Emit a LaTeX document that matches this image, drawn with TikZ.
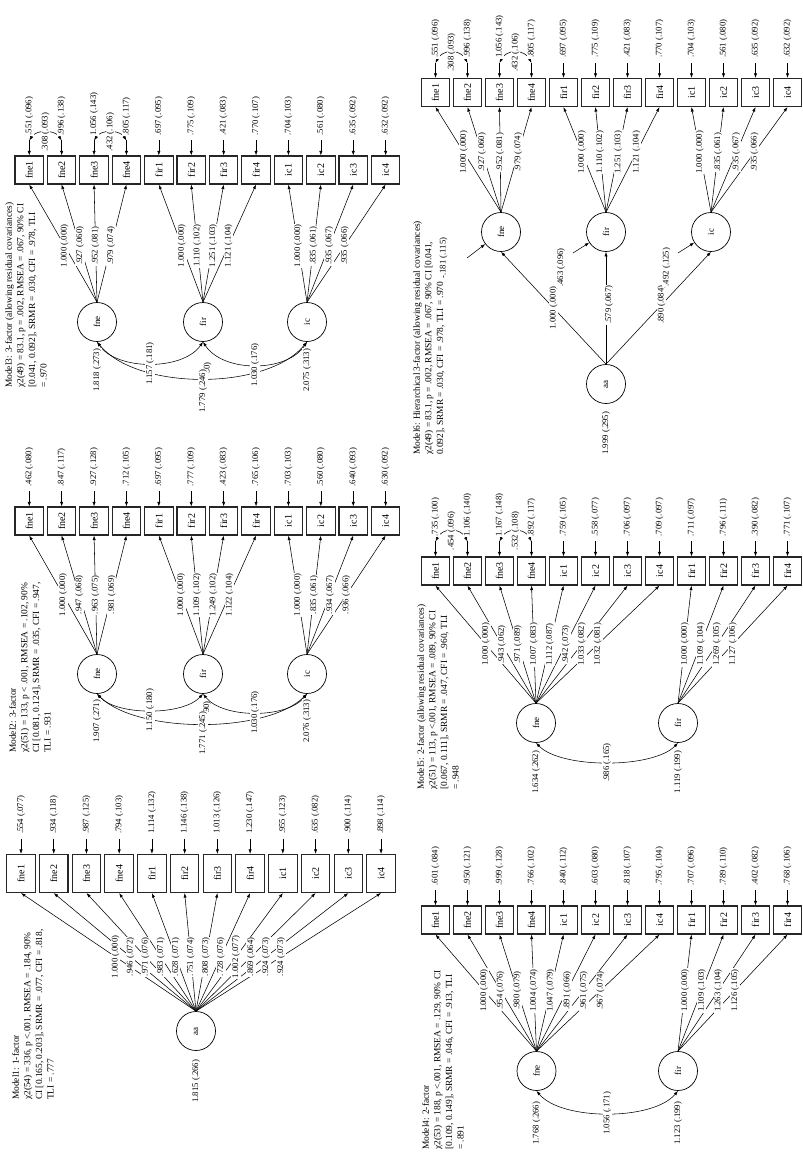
\documentclass[tikz,border=0pt]{standalone}
\usepackage{fontspec}
\setmainfont{Liberation Serif}
\usepackage{graphicx}
\usetikzlibrary{arrows.meta,calc}
\newcommand\fsnum{\fontsize{8.7}{10}\selectfont}
\newcommand\fshead{\fontsize{9.4}{11.6}\selectfont}
\newcommand\fsbox{\fontsize{10}{12}\selectfont}
\newcommand\fsfac{\fontsize{9}{11}\selectfont}
\tikzset{
  ind/.style={draw=black!85, line width=1.1pt, minimum width=28.5pt, minimum height=28pt, inner sep=0pt, font=\fsbox},
  fac/.style={draw, circle, line width=0.7pt, minimum size=39pt, inner sep=0pt, font=\fsfac},
  lab/.style={rotate=90, fill=white, inner sep=0.8pt, font=\fsnum},
  arr/.style={line width=0.55pt, -{Latex[length=4.5pt,width=3.2pt]}},
  darr/.style={line width=0.55pt, {Latex[length=4.5pt,width=3.2pt]}-{Latex[length=4.5pt,width=3.2pt]}},
  head/.style={rotate=90, anchor=north west, align=left, inner sep=0pt, font=\fshead},
}
\newcommand\boxrow[6][]{\foreach \n [count=\i from 0] in {#6}{\node[ind,#1] (#2\n) at ({#3+#4*\i},#5) {\rotatebox{90}{\n}};}}
% prefix, list, code drawn between the residual arrows and their labels
\newcommand\resid[3]{\foreach \n/\v in {#2}{%
  \coordinate (#1t\n) at ($(#1\n.north)+(0,-15)$);
  \draw[arr] (#1t\n) -- (#1\n.north);}
  #3
  \foreach \n/\v in {#2}{\node[lab,anchor=west] at ($(#1t\n)+(0,-4)$) {\v};}}
\newcommand\rcov[5]{\draw[darr] (#1t#2) .. controls +(7,-#5) and +(-7,-#5) .. (#1t#3);
  \node[lab] at ($(#1t#2)!.5!(#1t#3)+(0,{-0.75*#5})$) {#4};}
\newcommand\loads[4]{\foreach \n/\v in {#4}{\draw[arr] (#1.north) -- (#2\n.south);}
  \foreach \n/\v in {#4}{\path (#1.north) -- node[lab,pos=#3]{\v} (#2\n.south);}}
\newcommand\fcov[5]{\draw[darr] (#1.south) .. controls +(#3,#4) and +(-#3,#4) .. (#2.south);
  \node[lab] at ($(#1.south)!.5!(#2.south)+(0,{0.75*#4})$) {#5};}
\newcommand\fvar[3]{\node[lab,anchor=east] at ($(#1.south)+(0,#2)$) {#3};}
\begin{document}
\begin{tikzpicture}[x=1pt,y=-1pt]
\useasboundingbox (0,0) rectangle (803,1154);
% ================= Model3
\boxrow{m3}{29.25}{32.4}{170}{fne1,fne2,fne3,fne4,fir1,fir2,fir3,fir4,ic1,ic2,ic3,ic4}
\node[fac] (m3fne) at (97,322) {\rotatebox{90}{fne}};
\node[fac] (m3fir) at (203,322) {\rotatebox{90}{fir}};
\node[fac] (m3ic) at (307,322) {\rotatebox{90}{ic}};
\loads{m3fne}{m3}{0.48}{fne1/{1.000 (.000)},fne2/{.927 (.060)},fne3/{.952 (.081)},fne4/{.979 (.074)}}
\loads{m3fir}{m3}{0.48}{fir1/{1.000 (.000)},fir2/{1.110 (.102)},fir3/{1.251 (.103)},fir4/{1.121 (.104)}}
\loads{m3ic}{m3}{0.48}{ic1/{1.000 (.000)},ic2/{.835 (.061)},ic3/{.935 (.067)},ic4/{.935 (.066)}}
\resid{m3}{fne1/{.551 (.096)},fne2/{.996 (.138)},fne3/{1.056 (.143)},fne4/{.805 (.117)},fir1/{.697 (.095)},fir2/{.775 (.109)},fir3/{.421 (.083)},fir4/{.770 (.107)},ic1/{.704 (.103)},ic2/{.561 (.080)},ic3/{.635 (.092)},ic4/{.632 (.092)}}{%
  \rcov{m3}{fne1}{fne2}{.308 (.093)}{11}\rcov{m3}{fne3}{fne4}{.432 (.106)}{11}}
\draw[darr] (m3fne.south) .. controls +(40,49) and +(-40,49) .. (m3ic.south);
\fcov{m3fne}{m3fir}{20}{29}{1.157 (.181)}
\fcov{m3fir}{m3ic}{20}{31}{1.030 (.176)}
\fvar{m3fne}{6}{1.818 (.273)}
\node[lab,fill=none] at (207.5,368) {90)};
\fvar{m3fir}{27}{1.779 (.246)}
\fvar{m3ic}{6}{2.075 (.313)}
\node[head] (h3) at (5,388) {Model3: 3-factor (allowing residual covariances)\\χ2(49) = 83.1, p = .002, RMSEA = .067, 90\% CI\\{}[0.041, 0.092], SRMR = .030, CFI = .978, TLI\\= .970};
% ================= Model2
\boxrow{m2}{29.25}{32.4}{521}{fne1,fne2,fne3,fne4,fir1,fir2,fir3,fir4,ic1,ic2,ic3,ic4}
\node[fac] (m2fne) at (97,674) {\rotatebox{90}{fne}};
\node[fac] (m2fir) at (203,674) {\rotatebox{90}{fir}};
\node[fac] (m2ic) at (307,674) {\rotatebox{90}{ic}};
\loads{m2fne}{m2}{0.5}{fne1/{1.000 (.000)},fne2/{.947 (.068)},fne3/{.963 (.075)},fne4/{.981 (.069)}}
\loads{m2fir}{m2}{0.5}{fir1/{1.000 (.000)},fir2/{1.109 (.102)},fir3/{1.249 (.102)},fir4/{1.122 (.104)}}
\loads{m2ic}{m2}{0.5}{ic1/{1.000 (.000)},ic2/{.835 (.061)},ic3/{.934 (.067)},ic4/{.936 (.066)}}
\resid{m2}{fne1/{.462 (.080)},fne2/{.847 (.117)},fne3/{.927 (.128)},fne4/{.712 (.105)},fir1/{.697 (.095)},fir2/{.777 (.109)},fir3/{.423 (.083)},fir4/{.765 (.106)},ic1/{.703 (.103)},ic2/{.560 (.080)},ic3/{.640 (.093)},ic4/{.630 (.092)}}{}
\draw[darr] (m2fne.south) .. controls +(40,40) and +(-40,40) .. (m2ic.south);
\fcov{m2fne}{m2fir}{20}{22}{1.150 (.180)}
\fcov{m2fir}{m2ic}{20}{25}{1.030 (.176)}
\fvar{m2fne}{5}{1.907 (.271)}
\node[lab,fill=none] at (207,707) {90)};
\fvar{m2fir}{17}{1.771 (.245)}
\fvar{m2ic}{5}{2.076 (.313)}
\node[head] (h2) at (9,753) {Model2: 3-factor\\χ2(51) = 133, p < .001, RMSEA = .102, 90\%\\CI [0.081, 0.124], SRMR = .035, CFI = .947,\\TLI = .931};
% ================= Model1
\boxrow[minimum height=38pt]{m1}{21}{32.73}{873.5}{fne1,fne2,fne3,fne4,fir1,fir2,fir3,fir4,ic1,ic2,ic3,ic4}
\node[fac] (m1aa) at (196,1031) {\rotatebox{90}{aa}};
\loads{m1aa}{m1}{0.46}{fne1/{1.000 (.000)},fne2/{.946 (.072)},fne3/{.971 (.076)},fne4/{.983 (.071)},fir1/{.628 (.071)},fir2/{.751 (.074)},fir3/{.808 (.073)},fir4/{.728 (.076)},ic1/{1.002 (.077)},ic2/{.869 (.064)},ic3/{.924 (.073)},ic4/{.924 (.073)}}
\resid{m1}{fne1/{.554 (.077)},fne2/{.934 (.118)},fne3/{.987 (.125)},fne4/{.794 (.103)},fir1/{1.114 (.132)},fir2/{1.146 (.138)},fir3/{1.013 (.126)},fir4/{1.230 (.147)},ic1/{.955 (.123)},ic2/{.635 (.082)},ic3/{.900 (.114)},ic4/{.898 (.114)}}{}
\fvar{m1aa}{8}{1.815 (.266)}
\node[head] (h1) at (12,1100) {Model1: 1-factor\\χ2(54) = 336, p <.001, RMSEA = .184, 90\%\\CI [0.165, 0.203], SRMR = .077, CFI = .818,\\TLI = .777};
% ================= Model6
\boxrow{m6}{435.5}{32}{92.5}{fne1,fne2,fne3,fne4,fir1,fir2,fir3,fir4,ic1,ic2,ic3,ic4}
\node[fac] (m6fne) at (501,232) {\rotatebox{90}{fne}};
\node[fac] (m6fir) at (606,232) {\rotatebox{90}{fir}};
\node[fac] (m6ic) at (711,232) {\rotatebox{90}{ic}};
\node[fac] (m6aa) at (606,384) {\rotatebox{90}{aa}};
\loads{m6fne}{m6}{0.57}{fne1/{1.000 (.000)},fne2/{.927 (.060)},fne3/{.952 (.081)},fne4/{.979 (.074)}}
\loads{m6fir}{m6}{0.57}{fir1/{1.000 (.000)},fir2/{1.110 (.102)},fir3/{1.251 (.103)},fir4/{1.121 (.104)}}
\loads{m6ic}{m6}{0.57}{ic1/{1.000 (.000)},ic2/{.835 (.061)},ic3/{.935 (.067)},ic4/{.935 (.066)}}
\resid{m6}{fne1/{.551 (.096)},fne2/{.996 (.138)},fne3/{1.056 (.143)},fne4/{.805 (.117)},fir1/{.697 (.095)},fir2/{.775 (.109)},fir3/{.421 (.083)},fir4/{.770 (.107)},ic1/{.704 (.103)},ic2/{.561 (.080)},ic3/{.635 (.092)},ic4/{.632 (.092)}}{%
  \rcov{m6}{fne1}{fne2}{.308 (.093)}{14}\rcov{m6}{fne3}{fne4}{.432 (.106)}{14}}
\draw[arr] (m6aa.north) -- (m6fne.south);
\draw[arr] (m6aa.north) -- (m6fir.south);
\draw[arr] (m6aa.north) -- (m6ic.south);
\node[lab] at ($(m6aa.north)!.5!(m6fne.south)$) {1.000 (.000)};
\node[lab] at ($(m6aa.north)!.53!(m6fir.south)+(3,0)$) {.579 (.067)};
\node[lab] at ($(m6aa.north)!.53!(m6ic.south)$) {.890 (.084)};
\coordinate (m6dfne) at (467,258);
\coordinate (m6dfir) at (573,253);
\coordinate (m6dic) at (678,253);
\draw[arr] (m6dfne) -- (m6fne);
\draw[arr] (m6dfir) -- (m6fir);
\draw[arr] (m6dic) -- (m6ic);
\node[lab] at (443.5,258) {-.181 (.115)};
\node[lab] at (561,267.5) {.463 (.096)};
\node[lab] at (666.5,267) {.492 (.125)};
\fvar{m6aa}{7}{1.999 (.295)}
\node[head] (h6) at (413,455) {Model6: Hierarchical 3-factor (allowing residual covariances)\\χ2(49) = 83.1, p = .002, RMSEA = .067, 90\% CI [0.041,\\0.092], SRMR = .030, CFI = .978, TLI = .970};
% ================= Model5
\boxrow{m5}{435.5}{32}{571}{fne1,fne2,fne3,fne4,ic1,ic2,ic3,ic4,fir1,fir2,fir3,fir4}
\node[fac] (m5fne) at (536,723) {\rotatebox{90}{fne}};
\node[fac] (m5fir) at (678,723) {\rotatebox{90}{fir}};
\loads{m5fne}{m5}{0.5}{fne1/{1.000 (.000)},fne2/{.943 (.062)},fne3/{.971 (.089)},fne4/{1.007 (.083)},ic1/{1.112 (.087)},ic2/{.942 (.073)},ic3/{1.033 (.082)},ic4/{1.032 (.081)}}
\loads{m5fir}{m5}{0.5}{fir1/{1.000 (.000)},fir2/{1.109 (.104)},fir3/{1.269 (.105)},fir4/{1.127 (.106)}}
\resid{m5}{fne1/{.735 (.100)},fne2/{1.106 (.140)},fne3/{1.167 (.148)},fne4/{.892 (.117)},ic1/{.759 (.105)},ic2/{.558 (.077)},ic3/{.706 (.097)},ic4/{.709 (.097)},fir1/{.711 (.097)},fir2/{.796 (.111)},fir3/{.390 (.082)},fir4/{.771 (.107)}}{%
  \rcov{m5}{fne1}{fne2}{.454 (.096)}{14}\rcov{m5}{fne3}{fne4}{.532 (.108)}{14}}
\fcov{m5fne}{m5fir}{25}{26}{.986 (.165)}
\fvar{m5fne}{7}{1.634 (.262)}
\fvar{m5fir}{7}{1.119 (.199)}
\node[head] (h5) at (417,790) {Model5: 2-factor (allowing residual covariances)\\χ2(51) = 113, p <.001, RMSEA = .089, 90\% CI\\{}[0.067, 0.111], SRMR = .047, CFI = .960, TLI\\= .948};
% ================= Model4
\boxrow{m4}{435.5}{32}{920}{fne1,fne2,fne3,fne4,ic1,ic2,ic3,ic4,fir1,fir2,fir3,fir4}
\node[fac] (m4fne) at (536.5,1071) {\rotatebox{90}{fne}};
\node[fac] (m4fir) at (678,1071) {\rotatebox{90}{fir}};
\loads{m4fne}{m4}{0.52}{fne1/{1.000 (.000)},fne2/{.954 (.076)},fne3/{.980 (.079)},fne4/{1.004 (.074)},ic1/{1.047 (.079)},ic2/{.891 (.066)},ic3/{.961 (.075)},ic4/{.967 (.074)}}
\loads{m4fir}{m4}{0.52}{fir1/{1.000 (.000)},fir2/{1.109 (.103)},fir3/{1.263 (.104)},fir4/{1.126 (.105)}}
\resid{m4}{fne1/{.601 (.084)},fne2/{.950 (.121)},fne3/{.999 (.128)},fne4/{.766 (.102)},ic1/{.840 (.112)},ic2/{.603 (.080)},ic3/{.818 (.107)},ic4/{.795 (.104)},fir1/{.707 (.096)},fir2/{.789 (.110)},fir3/{.402 (.082)},fir4/{.768 (.106)}}{}
\fcov{m4fne}{m4fir}{25}{30}{1.056 (.171)}
\fvar{m4fne}{10}{1.768 (.266)}
\fvar{m4fir}{10}{1.123 (.199)}
\node[head] (h4) at (422,1150) {Model4: 2-factor\\χ2(53) = 188, p <.001, RMSEA = .129, 90\% CI\\{}[0.109, 0.149], SRMR = .046, CFI = .913, TLI\\= .891};
\end{tikzpicture}
\end{document}
